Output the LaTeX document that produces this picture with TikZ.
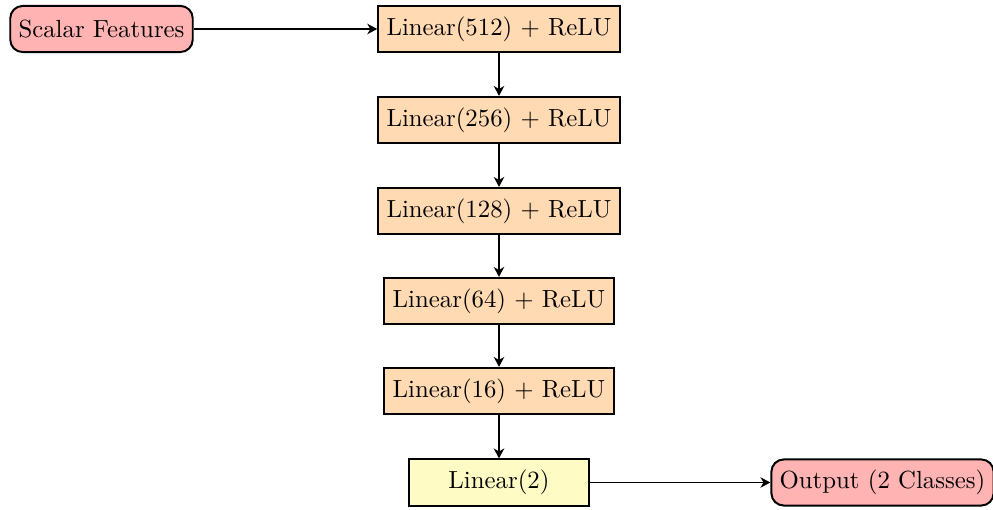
\documentclass[tikz,border=0pt]{standalone}
\usetikzlibrary{arrows.meta}
\definecolor{inpink}{HTML}{FFB3B3}
\definecolor{layorange}{HTML}{FFDAB3}
\definecolor{outyellow}{HTML}{FFFBC4}
\tikzset{
  box/.style={draw=black, thick, minimum height=18.6pt, anchor=center},
  iobox/.style={box, fill=inpink, rounded corners=5pt},
  layer/.style={box, fill=layorange},
  final/.style={box, fill=outyellow, minimum width=72.5pt},
  arr/.style={-{Stealth[length=4pt,width=4.2pt,inset=1.2pt]}, thick},
}
\begin{document}
\begin{tikzpicture}[x=0.4032pt, y=-0.4032pt]
\useasboundingbox (0,0) rectangle (993,510);
\node[iobox] (in) at (101.5,29) {Scalar Features};
\node[layer] (l1) at (499,29) {Linear(512) + ReLU};
\node[layer] (l2) at (499,120) {Linear(256) + ReLU};
\node[layer] (l3) at (499,211) {Linear(128) + ReLU};
\node[layer] (l4) at (499,301) {Linear(64) + ReLU};
\node[layer] (l5) at (499,391) {Linear(16) + ReLU};
\node[final] (l6) at (499,482.5) {Linear(2)};
\node[iobox] (out) at (882.5,482.5) {Output (2 Classes)};
\draw[arr] (in) -- (l1);
\draw[arr] (l1) -- (l2);
\draw[arr] (l2) -- (l3);
\draw[arr] (l3) -- (l4);
\draw[arr] (l4) -- (l5);
\draw[arr] (l5) -- (l6);
\draw[arr] (l6) -- (out);
\end{tikzpicture}
\end{document}
